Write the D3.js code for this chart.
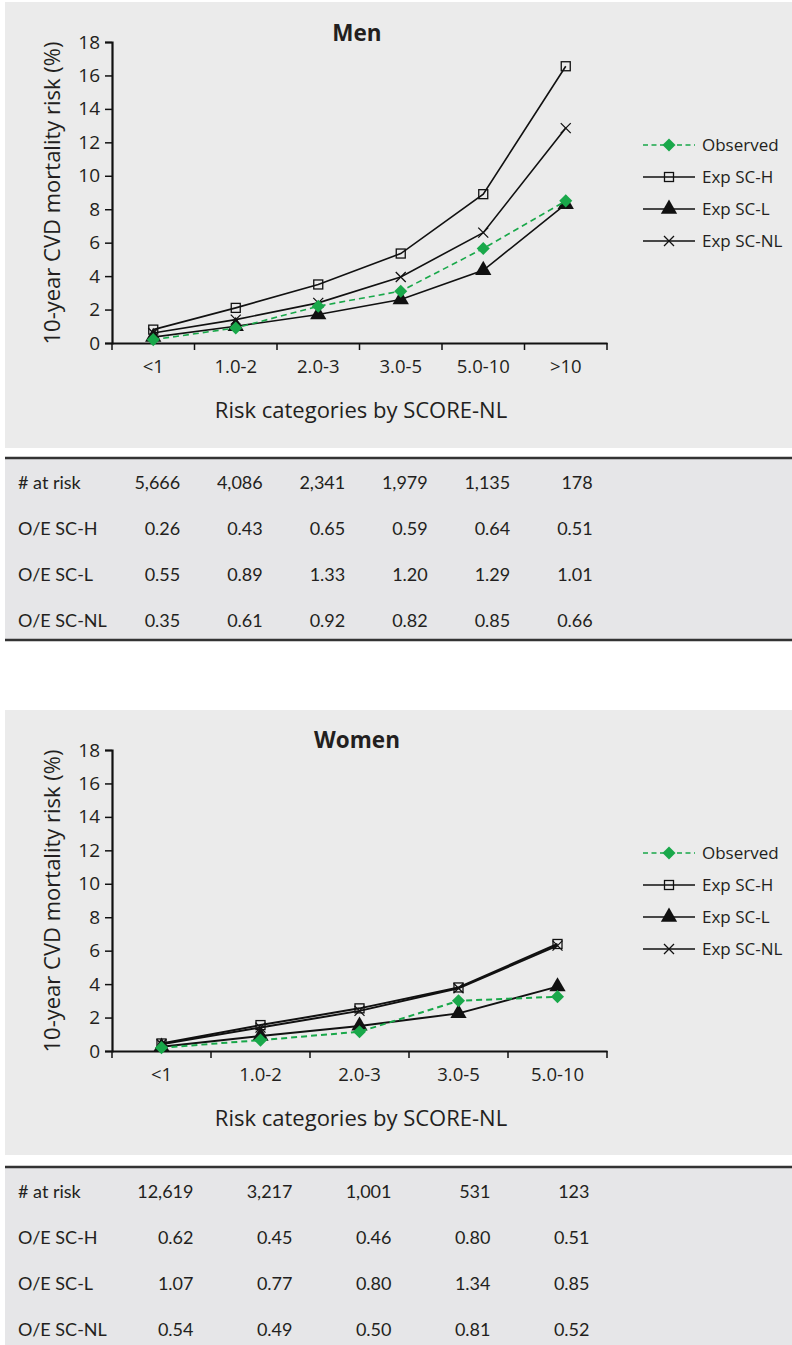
<!DOCTYPE html>
<html>
<head>
<meta charset="utf-8">
<script src="https://cdn.jsdelivr.net/npm/d3@7"></script>
<style>
  body { margin: 0; background: #fff; }
  svg { display: block; }
  text { fill: #231f20; }
</style>
</head>
<body>
<svg width="792" height="1345"></svg>
<script>
// categorias por sexo
const menCats = ["<1", "1.0-2", "2.0-3", "3.0-5", "5.0-10", ">10"];
const womenCats = ["<1", "1.0-2", "2.0-3", "3.0-5", "5.0-10"];

// riesgo (%)
const menObserved = [0.2, 0.9, 2.2, 3.1, 5.65, 8.5];
const menSCH = [0.8, 2.1, 3.5, 5.35, 8.9, 16.55];
const menSCL = [0.35, 1.0, 1.7, 2.6, 4.35, 8.3];
const menSCNL = [0.6, 1.4, 2.4, 3.95, 6.6, 12.85];

const womenObserved = [0.2, 0.65, 1.15, 3.0, 3.25];
const womenSCH = [0.45, 1.55, 2.55, 3.8, 6.4];
const womenSCL = [0.25, 0.9, 1.5, 2.25, 3.85];
const womenSCNL = [0.4, 1.4, 2.4, 3.75, 6.3];

const yTicks = [0, 2, 4, 6, 8, 10, 12, 14, 16, 18];
const seriesNames = ["Observed", "Exp SC-H", "Exp SC-L", "Exp SC-NL"];

// tablas
const rowLabels = ["# at risk", "O/E SC-H", "O/E SC-L", "O/E SC-NL"];
const menAtRisk = ["5,666", "4,086", "2,341", "1,979", "1,135", "178"];
const menOEH = ["0.26", "0.43", "0.65", "0.59", "0.64", "0.51"];
const menOEL = ["0.55", "0.89", "1.33", "1.20", "1.29", "1.01"];
const menOENL = ["0.35", "0.61", "0.92", "0.82", "0.85", "0.66"];
const womenAtRisk = ["12,619", "3,217", "1,001", "531", "123"];
const womenOEH = ["0.62", "0.45", "0.46", "0.80", "0.51"];
const womenOEL = ["1.07", "0.77", "0.80", "1.34", "0.85"];
const womenOENL = ["0.54", "0.49", "0.50", "0.81", "0.52"];

const green = "#19a84a";
const svg = d3.select("svg");
const font = "'Open Sans', sans-serif";
const tfont = "Lato, sans-serif";

function marker(sel, type, size) {
  if (type === "Observed") {
    sel.append("path").attr("d", d3.symbol(d3.symbolDiamond2, size * size * 0.9)())
      .attr("fill", green);
  } else if (type === "Exp SC-H") {
    sel.append("rect").attr("x", -4.5).attr("y", -4.5).attr("width", 9).attr("height", 9)
      .attr("fill", "none").attr("stroke", "#111").attr("stroke-width", 1.3);
  } else if (type === "Exp SC-L") {
    sel.append("path").attr("d", d3.symbol(d3.symbolTriangle, size * size * 0.95)())
      .attr("fill", "#111");
  } else {
    sel.append("path").attr("d", "M-5,-5L5,5M-5,5L5,-5")
      .attr("stroke", "#111").attr("stroke-width", 1.3);
  }
}

function panel(cfg) {
  const top = cfg.top;
  // fondo gris
  svg.append("rect").attr("x", 5).attr("y", top).attr("width", 787).attr("height", cfg.bgH)
    .attr("fill", "#ebebeb");

  const x = d3.scaleBand().domain(cfg.cats).range([112, 607]);
  const y = d3.scaleLinear().domain([0, 18]).range([top + cfg.y0, top + cfg.y0 - 301]);

  const g = svg.append("g");

  // eje y
  const yAx = g.append("g").attr("transform", "translate(112,0)")
    .call(d3.axisLeft(y).tickValues(yTicks).tickSize(7).tickPadding(5));
  yAx.selectAll("text").attr("font-family", font).attr("font-size", 19).attr("fill", "#231f20");
  yAx.selectAll("line").attr("stroke", "#111").attr("stroke-width", 1.5);
  yAx.select(".domain").attr("stroke", "#111").attr("stroke-width", 2.2);

  // eje x con ticks entre categorias
  const xAx = g.append("g").attr("transform", `translate(0,${y(0)})`)
    .call(d3.axisBottom(x).tickSize(0).tickPadding(17));
  xAx.selectAll("text").attr("font-family", font).attr("font-size", 18.5).attr("fill", "#231f20");
  xAx.select(".domain").attr("stroke", "#111").attr("stroke-width", 2.2);
  xAx.selectAll(".sep").data(d3.range(cfg.cats.length + 1)).join("line")
    .attr("x1", i => 112 + i * x.step()).attr("x2", i => 112 + i * x.step())
    .attr("y1", 0).attr("y2", 7).attr("stroke", "#111").attr("stroke-width", 1.5);

  g.append("text").attr("x", 361).attr("y", top + cfg.y0 + 75)
    .attr("text-anchor", "middle").attr("font-family", font).attr("font-size", 22)
    .text("Risk categories by SCORE-NL");

  g.append("text").attr("transform", `translate(60,${top + cfg.y0 - 150}) rotate(-90)`)
    .attr("text-anchor", "middle").attr("font-family", font).attr("font-size", 22)
    .text("10-year CVD mortality risk (%)");

  g.append("text").attr("x", 357).attr("y", top + cfg.titleY)
    .attr("text-anchor", "middle").attr("font-family", font).attr("font-weight", "bold")
    .attr("font-size", 22.5).text(cfg.title);

  const cx = d => x(d) + x.bandwidth() / 2;
  const line = d3.line().x((v, i) => cx(cfg.cats[i])).y(v => y(v));

  // lineas: primero las esperadas, luego observado
  const order = [1, 3, 2, 0];
  order.forEach(k => {
    const vals = cfg.series[k];
    g.append("path").attr("d", line(vals)).attr("fill", "none")
      .attr("stroke", k === 0 ? green : "#111")
      .attr("stroke-width", cfg.lw)
      .attr("stroke-dasharray", k === 0 ? "6,4" : null);
    vals.forEach((v, i) => {
      const m = g.append("g").attr("transform", `translate(${cx(cfg.cats[i])},${y(v)})`);
      marker(m, seriesNames[k], 11);
    });
  });

  // leyenda
  seriesNames.forEach((n, i) => {
    const ly = top + cfg.legY + i * 32;
    g.append("line").attr("x1", 643).attr("x2", 695).attr("y1", ly).attr("y2", ly)
      .attr("stroke", i === 0 ? green : "#111").attr("stroke-width", 1.6)
      .attr("stroke-dasharray", i === 0 ? "5,3.5" : null);
    const m = g.append("g").attr("transform", `translate(669,${ly})`);
    marker(m, n, 11);
    g.append("text").attr("x", 702).attr("y", ly).attr("dy", "0.35em")
      .attr("font-family", font).attr("font-size", 17).text(n);
  });

  // tabla
  const tt = cfg.tableTop;
  svg.append("rect").attr("x", 5).attr("y", tt).attr("width", 787).attr("height", cfg.tableH)
    .attr("fill", "#e6e6e8");
  svg.append("line").attr("x1", 5).attr("x2", 792).attr("y1", tt).attr("y2", tt)
    .attr("stroke", "#333").attr("stroke-width", 2.5);
  if (cfg.tableBottomLine) {
    svg.append("line").attr("x1", 5).attr("x2", 792).attr("y1", tt + cfg.tableH).attr("y2", tt + cfg.tableH)
      .attr("stroke", "#333").attr("stroke-width", 2.5);
  }
  cfg.table.forEach((row, r) => {
    const ry = tt + 25 + r * 45.8;
    svg.append("text").attr("x", 18).attr("y", ry).attr("dy", "0.35em")
      .attr("font-family", tfont).attr("font-size", 18).text(rowLabels[r]);
    row.forEach((v, i) => {
      svg.append("text").attr("x", cx(cfg.cats[i]) + cfg.numShift).attr("y", ry).attr("dy", "0.35em")
        .attr("text-anchor", "end").attr("font-family", tfont).attr("font-size", 18)
        .text(v);
    });
  });
}

panel({
  top: 2, bgH: 446, y0: 341, titleY: 39, title: "Men", legY: 143, lw: 1.6,
  cats: menCats, series: [menObserved, menSCH, menSCL, menSCNL],
  tableTop: 458, tableH: 182, tableBottomLine: true, numShift: 27,
  table: [menAtRisk, menOEH, menOEL, menOENL]
});

panel({
  top: 710, bgH: 445, y0: 341, titleY: 38, title: "Women", legY: 143, lw: 2,
  cats: womenCats, series: [womenObserved, womenSCH, womenSCL, womenSCNL],
  tableTop: 1167, tableH: 190, tableBottomLine: false, numShift: 32,
  table: [womenAtRisk, womenOEH, womenOEL, womenOENL]
});
</script>
</body>
</html>
